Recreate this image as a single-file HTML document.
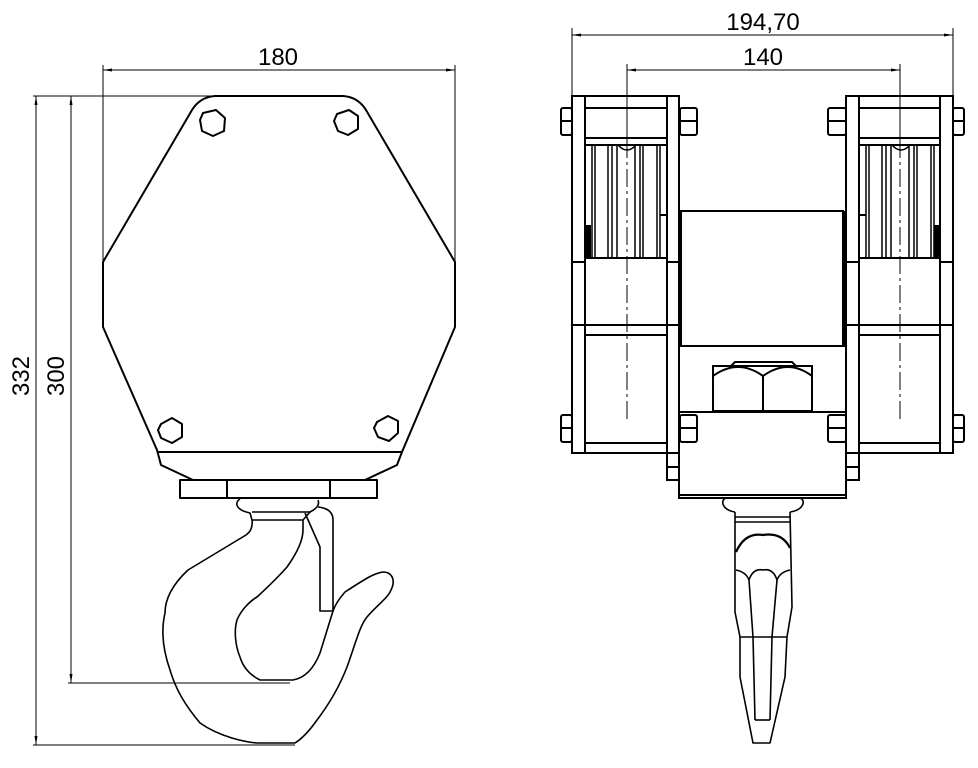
<!DOCTYPE html>
<html><head><meta charset="utf-8"><style>html,body{margin:0;padding:0;background:#fff}svg{display:block}</style></head>
<body>
<svg width="978" height="768" viewBox="0 0 978 768" xmlns="http://www.w3.org/2000/svg" font-family="Liberation Sans, sans-serif">
<g fill="none" stroke="#000" stroke-width="1">
<line x1="103" y1="65" x2="103" y2="262"/>
<line x1="455" y1="65" x2="455" y2="262"/>
<line x1="103" y1="70" x2="455" y2="70"/>
<line x1="33" y1="96" x2="215" y2="96"/>
<line x1="68" y1="683" x2="290" y2="683"/>
<line x1="33" y1="745" x2="295" y2="745"/>
<line x1="36" y1="96" x2="36" y2="745"/>
<line x1="71" y1="96" x2="71" y2="683"/>
<line x1="572" y1="28" x2="572" y2="96"/>
<line x1="953" y1="28" x2="953" y2="96"/>
<line x1="572" y1="35" x2="953" y2="35"/>
<line x1="627" y1="64" x2="627" y2="140"/>
<line x1="900" y1="64" x2="900" y2="140"/>
<line x1="627" y1="70" x2="900" y2="70"/>
</g>
<g fill="#000">
<path d="M103 70 l9 -1.5 v3z"/><path d="M455 70 l-9 -1.5 v3z"/>
<path d="M572 35 l9 -1.5 v3z"/><path d="M953 35 l-9 -1.5 v3z"/>
<path d="M627 70 l9 -1.5 v3z"/><path d="M900 70 l-9 -1.5 v3z"/>
<path d="M36 96 l-1.5 9 h3z"/><path d="M36 745 l-1.5 -9 h3z"/>
<path d="M71 96 l-1.5 9 h3z"/><path d="M71 683 l-1.5 -9 h3z"/>
</g>
<g font-size="24" fill="#000" text-anchor="middle">
<text x="278" y="65">180</text>
<text x="763" y="30">194,70</text>
<text x="763" y="65">140</text>
<text transform="translate(29,376) rotate(-90)">332</text>
<text transform="translate(64,376) rotate(-90)">300</text>
</g>

<g fill="none" stroke="#000" stroke-width="2" stroke-linejoin="round">
<path d="M215 96 L343 96 Q358 97 366 110 L455 262 L455 327 L402 452 L397 465 L365 480 L193 480 L161 465 L157 450 L103 327 L103 262 L192 110 Q200 97 215 96Z"/>
<line x1="157" y1="452" x2="402" y2="452"/>
<rect x="180" y="480" width="197" height="18"/>
<line x1="227" y1="480" x2="227" y2="498"/>
<line x1="330" y1="480" x2="330" y2="498"/>
<polygon points="203,113 216,110 225,118 224,131 213,136 202,131 200,120"/>
<polygon points="337,114 349,110 358,116 358,129 348,135 338,131 334,121"/>
<polygon points="161,424 172,418 182,424 182,437 172,443 161,438 158,430"/>
<polygon points="377,422 388,416 398,421 398,433 389,441 378,437 374,428"/>
</g>
<g fill="none" stroke="#000" stroke-width="1.6" stroke-linejoin="round">
<path d="M240 499 C234 503 236 510 250 513 L252 520 C253 528 250 532 246 535 L188 570 C172 585 165 600 165 613 C161 630 163 650 170 670 C176 690 185 705 200 723 C220 737 245 742 257 743 L295 743 C303 738 310 730 317 720 C330 703 340 685 347 667 C355 645 360 625 367 617 C377 605 388 598 391 590 C396 580 392 572 383 572 C375 573 368 577 345 592 C338 600 335 605 333 611 L320 653 C314 668 305 678 293 680 L260 680 C250 675 243 667 240 657 C235 645 234 630 237 620 C241 610 250 601 257 597 C270 585 280 575 287 567 C297 553 303 540 303 530 L303 520 L310 512 C316 509 320 505 318 500"/>
<line x1="252" y1="512" x2="310" y2="512"/>
<line x1="252" y1="520" x2="303" y2="520"/>
<path d="M305 513 L320 547 L320 611 L333 611 L333 520 C333 512 328 508 318 507"/>
</g>

<g fill="none" stroke="#000" stroke-width="2">
<rect x="572" y="96" width="107" height="357"/>
<line x1="585" y1="96" x2="585" y2="453"/>
<rect x="667" y="96" width="12" height="384"/>
<line x1="667" y1="467" x2="679" y2="467"/>
<line x1="585" y1="108" x2="667" y2="108"/>
<line x1="585" y1="138" x2="667" y2="138"/>
<line x1="585" y1="145" x2="667" y2="145"/>
<line x1="585" y1="258" x2="667" y2="258"/>
<line x1="572" y1="262" x2="585" y2="262"/>
<line x1="667" y1="262" x2="679" y2="262"/>
<line x1="572" y1="325" x2="679" y2="325"/>
<line x1="585" y1="335" x2="667" y2="335"/>
<line x1="585" y1="443" x2="667" y2="443"/>
<line x1="667" y1="215" x2="660" y2="215"/>
<rect x="846" y="96" width="107" height="357"/>
<line x1="940" y1="96" x2="940" y2="453"/>
<rect x="846" y="96" width="13" height="384"/>
<line x1="846" y1="467" x2="859" y2="467"/>
<line x1="859" y1="108" x2="940" y2="108"/>
<line x1="859" y1="138" x2="940" y2="138"/>
<line x1="859" y1="145" x2="940" y2="145"/>
<line x1="859" y1="258" x2="940" y2="258"/>
<line x1="940" y1="262" x2="953" y2="262"/>
<line x1="846" y1="262" x2="859" y2="262"/>
<line x1="846" y1="325" x2="953" y2="325"/>
<line x1="859" y1="335" x2="940" y2="335"/>
<line x1="859" y1="443" x2="940" y2="443"/>
<line x1="859" y1="215" x2="866" y2="215"/>
<rect x="681" y="211" width="162" height="135"/>
<rect x="679" y="346" width="167" height="152"/>
<line x1="679" y1="412" x2="846" y2="412"/>
<line x1="679" y1="495" x2="846" y2="495"/>
<rect x="713" y="366" width="99" height="45"/>
<line x1="763" y1="376" x2="763" y2="411"/>
<path d="M713 376 Q738 358 763 376 Q788 358 812 376"/>
<path d="M731 366 L735 362 L792 362 L796 366"/>
<rect x="561" y="108" width="11" height="27" rx="2"/><line x1="561" y1="121" x2="572" y2="121"/>
<rect x="680" y="108" width="17" height="27" rx="2"/><line x1="680" y1="121" x2="697" y2="121"/>
<rect x="828" y="108" width="18" height="27" rx="2"/><line x1="828" y1="121" x2="846" y2="121"/>
<rect x="953" y="108" width="11" height="27" rx="2"/><line x1="953" y1="121" x2="964" y2="121"/>
<rect x="561" y="415" width="11" height="27" rx="2"/><line x1="561" y1="428" x2="572" y2="428"/>
<rect x="680" y="415" width="17" height="27" rx="2"/><line x1="680" y1="428" x2="697" y2="428"/>
<rect x="828" y="415" width="18" height="27" rx="2"/><line x1="828" y1="428" x2="846" y2="428"/>
<rect x="953" y="415" width="11" height="27" rx="2"/><line x1="953" y1="428" x2="964" y2="428"/>
</g>
<g fill="none" stroke="#000" stroke-width="1.5">
<path d="M592 145V258M595 145V258M608 145V258M612 145V258M617 145V258M635 145V258M640 145V258M643 145V258M657 145V258M660 145V258"/>
<path d="M866 145V258M869 145V258M882 145V258M886 145V258M891 145V258M909 145V258M914 145V258M917 145V258M931 145V258M934 145V258"/>
<path d="M618 145 Q627 155 636 145M892 145 Q901 155 910 145"/>
</g>
<rect x="586" y="225" width="5" height="33" fill="#000"/>
<rect x="934" y="225" width="5" height="33" fill="#000"/>
<rect x="843" y="211" width="3" height="135" fill="#000"/>
<g stroke="#000" stroke-width="1" stroke-dasharray="18,4,3,4">
<line x1="627" y1="140" x2="627" y2="420"/>
<line x1="900" y1="140" x2="900" y2="420"/>
</g>
<g fill="none" stroke="#000" stroke-width="1.6" stroke-linejoin="round">
<path d="M735 512 C722 510 720 500 726 498 L800 498 C806 500 804 510 790 512"/>
<path d="M735 512 L735 612 L740 637 L740 677 L753 743 L770 743 L785 677 L787 637 L792 607 L790 512"/>
<line x1="735" y1="517" x2="790" y2="517"/>
<line x1="735" y1="522" x2="790" y2="522"/>
<path d="M736 552 Q745 532 763 535 Q782 532 790 548" stroke-width="2.2"/>
<path d="M736 570 Q746 572 749 580 Q753 568 763 570 Q773 568 777 580 Q780 572 790 570"/>
<path d="M749 580 L753 637 L755 720M777 580 L772 637 L770 720"/>
<line x1="740" y1="637" x2="787" y2="637"/>
<line x1="755" y1="720" x2="770" y2="720"/>
</g>
</svg>
</body></html>
